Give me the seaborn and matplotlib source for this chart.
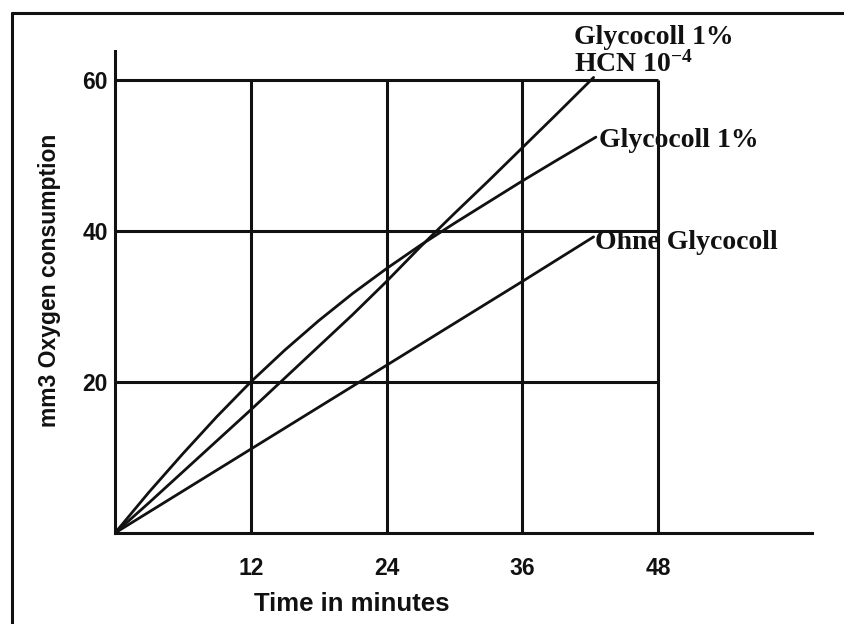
import numpy as np
import pandas as pd
import matplotlib.pyplot as plt
import seaborn as sns
from matplotlib.lines import Line2D

# values
hcn_x = [0, 3, 6, 9, 12, 15, 18, 21, 24, 27, 30, 33, 36, 39, 42.3]
hcn_y = [0, 4.0, 8.1, 12.2, 16.3, 20.5, 24.7, 28.9, 33.3, 37.9, 42.3, 46.6, 51.0, 55.4, 60.3]

gly_x = [0, 3, 6, 9, 12, 15, 18, 21, 24, 27, 30, 33, 36, 39, 42.5]
gly_y = [0, 5.4, 10.5, 15.4, 20.0, 24.2, 28.1, 31.7, 35.0, 38.1, 41.0, 43.8, 46.6, 49.3, 52.4]

ohne_x = [0, 12, 24, 36, 42.3]
ohne_y = [0, 11.1, 22.2, 33.3, 39.2]

x_ticks = [12, 24, 36, 48]
y_ticks = [20, 40, 60]

sns.set_theme(style="white")
plt.rcParams['font.family'] = ['Liberation Sans', 'DejaVu Sans']
plt.rcParams['mathtext.fontset'] = 'custom'
plt.rcParams['mathtext.rm'] = 'Liberation Serif:bold'
plt.rcParams['mathtext.default'] = 'rm'

fig = plt.figure(figsize=(8.45, 6.24), dpi=100)
ax = fig.add_axes([115/845, 91/624, 697/845, 482/624])

# grid box (only up to 48 min / 60 mm3)
ax.vlines(x_ticks, 0, max(y_ticks), color='#111111', lw=2.2, zorder=1)
ax.hlines(y_ticks, 0, max(x_ticks), color='#111111', lw=2.2, zorder=1)

for xs, ys in [(hcn_x, hcn_y), (gly_x, gly_y), (ohne_x, ohne_y)]:
    d = pd.DataFrame({'t': xs, 'o2': ys})
    sns.lineplot(data=d, x='t', y='o2', color='#111111', lw=2.0, ax=ax, zorder=3)

lab = dict(fontfamily='Liberation Serif', fontweight='bold', fontsize=20,
           color='#111111', ha='left', va='baseline', textcoords='offset points')
ax.annotate('Glycocoll 1%', xy=(hcn_x[-1], hcn_y[-1]), xytext=(-14, 24), **lab)
ax.annotate('HCN 10$^{-4}$', xy=(hcn_x[-1], hcn_y[-1]), xytext=(-14, 4), **lab)
ax.annotate('Glycocoll 1%', xy=(gly_x[-1], gly_y[-1]), xytext=(2, -7), **lab)
ax.annotate('Ohne Glycocoll', xy=(ohne_x[-1], ohne_y[-1]), xytext=(1, -9), **lab)

ax.set_xlim(0, 61.6)
ax.set_ylim(0, 63.8)
ax.set_xticks(x_ticks)
ax.set_yticks(y_ticks)
ax.tick_params(axis='both', direction='out', length=3, width=2, color='#111111',
               labelsize=16.5, labelcolor='#111111')
ax.tick_params(axis='x', pad=14)
ax.tick_params(axis='y', pad=2)
for t in ax.get_xticklabels() + ax.get_yticklabels():
    t.set_fontweight('bold')

for s in ['top', 'right']:
    ax.spines[s].set_visible(False)
for s in ['left', 'bottom']:
    ax.spines[s].set_linewidth(2.2)
    ax.spines[s].set_color('#111111')

ax.set_xlabel('Time in minutes', fontsize=18.5, fontweight='bold', color='#111111')
ax.set_ylabel('mm3 Oxygen consumption', fontsize=16.5, fontweight='bold', color='#111111')
ax.xaxis.label.set_va('center')
ax.yaxis.label.set_va('center')
ax.xaxis.set_label_coords((352 - 115) / 697, (533 - 604) / 482)
ax.yaxis.set_label_coords((50 - 115) / 697, (533 - 280) / 482)

# outer frame of the figure (left and top visible)
fig.add_artist(Line2D([12/845, 12/845], [0, 1 - 13/624], color='#111111', lw=2.2))
fig.add_artist(Line2D([12/845, 1], [1 - 13/624, 1 - 13/624], color='#111111', lw=2.2))

plt.savefig('out.png', dpi=100)
